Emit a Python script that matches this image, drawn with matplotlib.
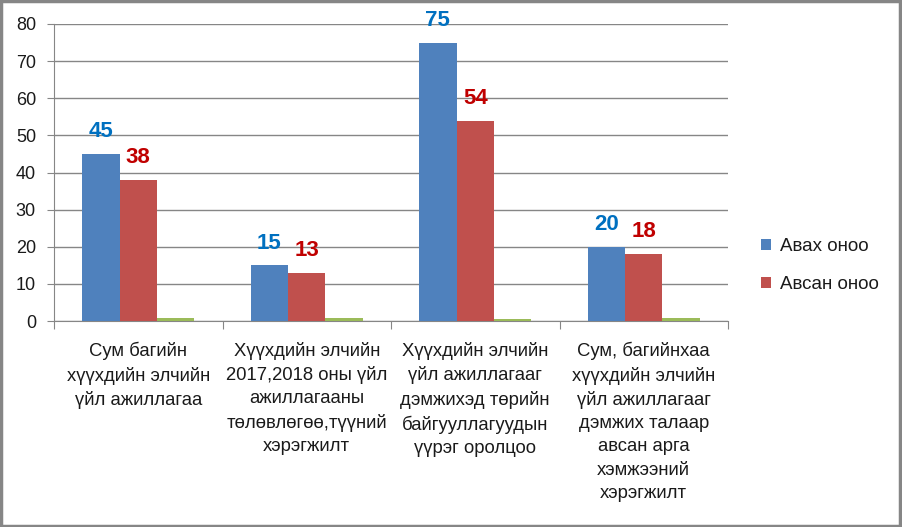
import numpy as np
import matplotlib.pyplot as plt
from matplotlib.patches import Rectangle

# data
categories = [
    "Сум багийн\nхүүхдийн элчийн\nүйл ажиллагаа",
    "Хүүхдийн элчийн\n2017,2018 оны үйл\nажиллагааны\nтөлөвлөгөө,түүний\nхэрэгжилт",
    "Хүүхдийн элчийн\nүйл ажиллагааг\nдэмжихэд төрийн\nбайгууллагуудын\nүүрэг оролцоо",
    "Сум, багийнхаа\nхүүхдийн элчийн\nүйл ажиллагааг\nдэмжих талаар\nавсан арга\nхэмжээний\nхэрэгжилт",
]
avah = [45, 15, 75, 20]
avsan = [38, 13, 54, 18]
third = [0.8, 0.8, 0.6, 0.8]
series_names = ["Авах оноо", "Авсан оноо"]

plt.rcParams['font.family'] = ['Liberation Sans', 'DejaVu Sans']

fig = plt.figure(figsize=(9.02, 5.27), dpi=100)
W, H = 902, 527
ax = fig.add_axes([54 / W, 1 - 321 / H, (728 - 54) / W, (321 - 24) / H])

x = np.arange(len(categories))
bw = 1 / 4.5
b1 = ax.bar(x - bw, avah, bw, color='#4F81BD', align='center', zorder=3)
b2 = ax.bar(x, avsan, bw, color='#C0504D', align='center', zorder=3)
ax.bar(x + bw, third, bw, color='#9BBB59', align='center', zorder=3)

for xi, v in zip(x, avah):
    ax.annotate(str(v), (xi - bw, v), xytext=(0, 8.5), textcoords='offset points',
                ha='center', va='bottom', color='#0070C0', fontsize=16, fontweight='bold')
for xi, v in zip(x, avsan):
    ax.annotate(str(v), (xi, v), xytext=(0, 8.5), textcoords='offset points',
                ha='center', va='bottom', color='#C00000', fontsize=16, fontweight='bold')

ax.set_xlim(-0.5, 3.5)
ax.set_ylim(0, 80)
ax.set_yticks(range(0, 81, 10))
ax.tick_params(axis='y', labelsize=13, colors='#868686', labelcolor='#1a1a1a', length=5, pad=8)
ax.grid(axis='y', color='#868686', linewidth=1, zorder=0)
ax.set_axisbelow(True)

ax.set_xticks(np.arange(-0.5, 3.6, 1))
ax.set_xticklabels([])
ax.tick_params(axis='x', length=6, colors='#868686')
for xi, lab in zip(x, categories):
    ax.text(xi, -5.6, lab, ha='center', va='top', fontsize=13.3, linespacing=1.47,
            color='#1a1a1a')

for s in ['top', 'right']:
    ax.spines[s].set_visible(False)
for s in ['left', 'bottom']:
    ax.spines[s].set_color('#868686')

ax.legend([b1, b2], series_names, loc='upper left', bbox_to_anchor=(744 / W, 1 - 221 / H),
          bbox_transform=fig.transFigure, frameon=False, fontsize=13.5,
          handlelength=0.55, handleheight=0.55, handletextpad=0.45, labelspacing=1.15,
          labelcolor='#1a1a1a')

fig.patches.append(Rectangle((0.001, 0.002), 0.997, 0.996, transform=fig.transFigure,
                             fill=False, edgecolor='#868686', linewidth=2.5))

fig.savefig('out.png', dpi=100)
